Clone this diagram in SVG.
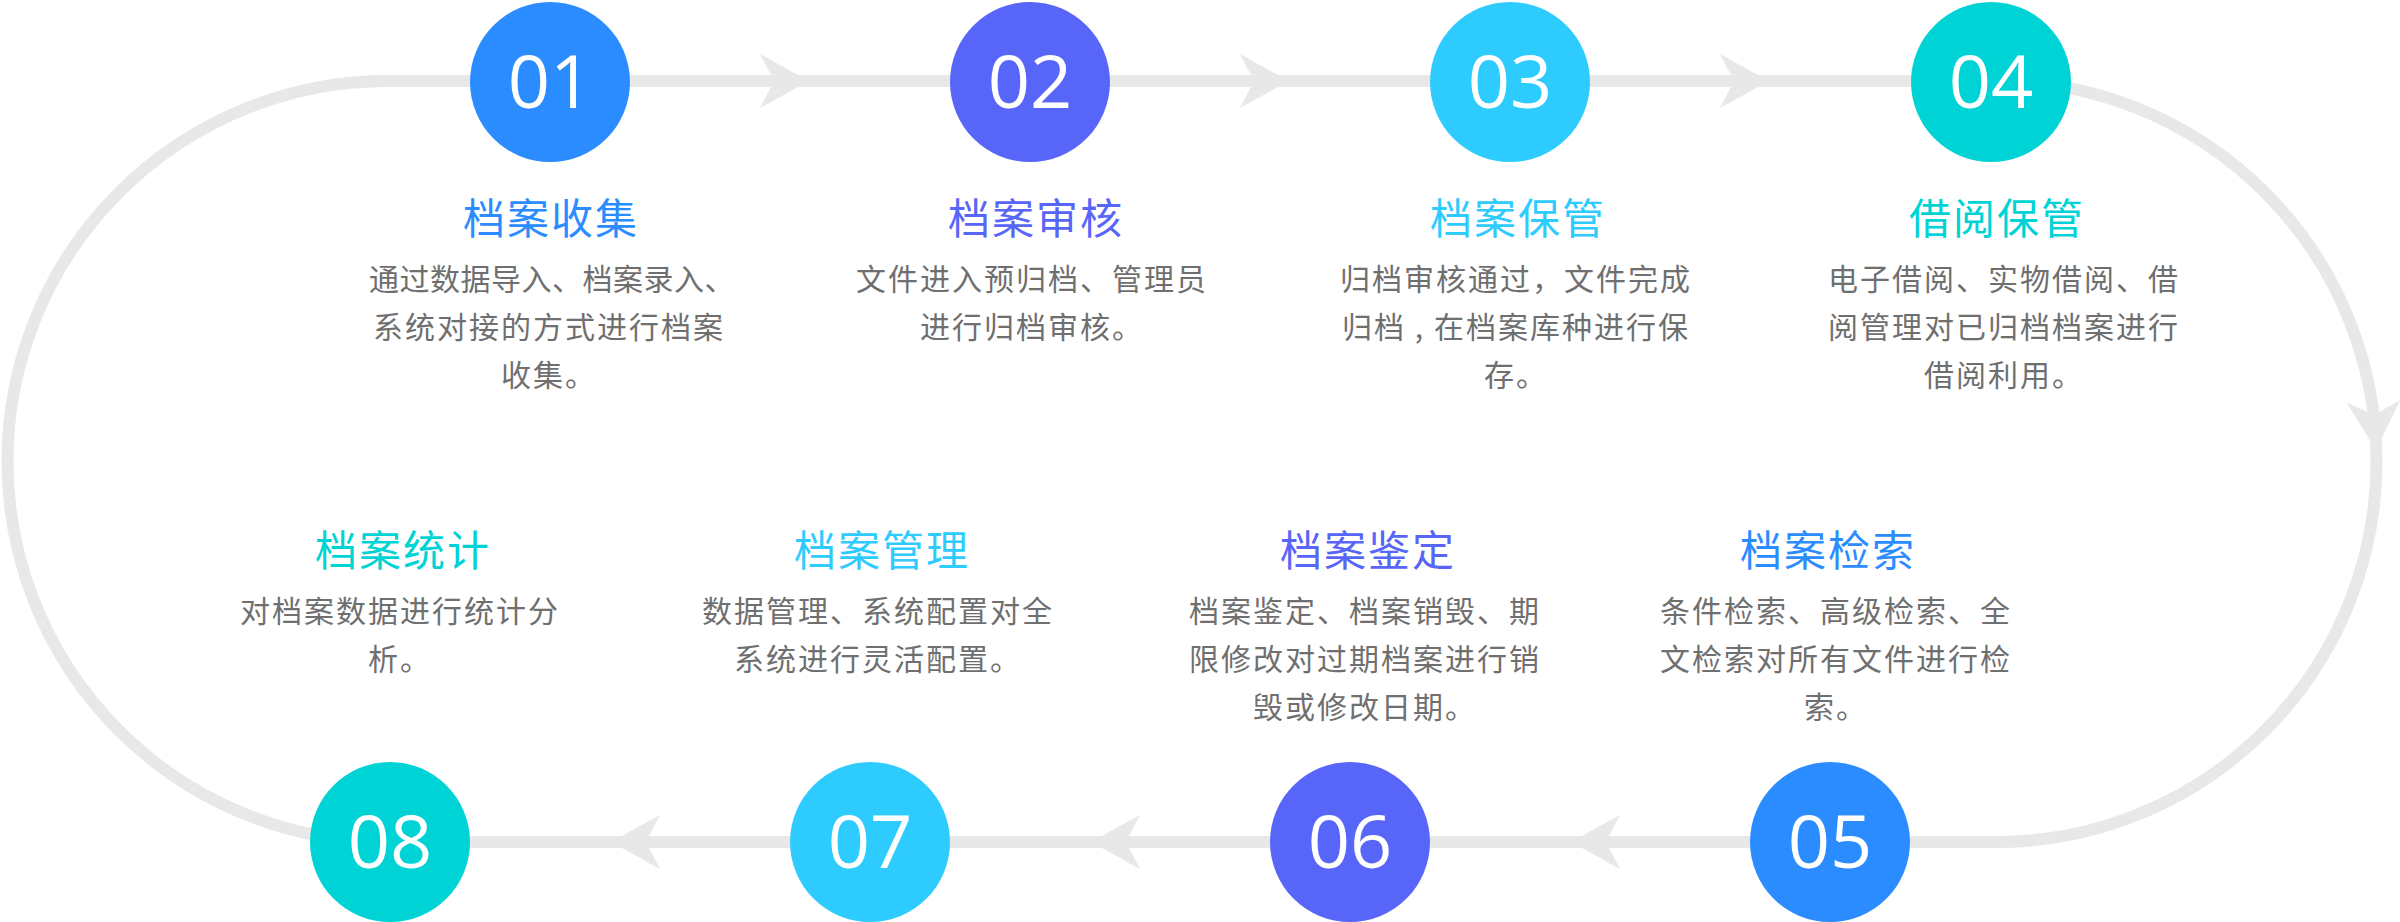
<svg xmlns="http://www.w3.org/2000/svg" xmlns:xlink="http://www.w3.org/1999/xlink" width="2400" height="922" viewBox="0 0 2400 922">
<style>
.track{fill:none;stroke:#e8e8e8;stroke-width:12}
.arr{fill:#e8e8e8}
.num{font-family:"Open Sans","Noto Sans",sans-serif;font-size:74px;fill:#ffffff;text-anchor:middle}
.title{font-family:"Noto Sans CJK SC","Noto Sans",sans-serif;font-size:42px;letter-spacing:2px;text-anchor:middle}
.desc{font-family:"Noto Sans CJK SC","Noto Sans",sans-serif;font-size:30px;letter-spacing:2px;fill:#6f6f6f;text-anchor:middle}
.tight{letter-spacing:0.5px}
.c1{fill:#2b8cff}.c2{fill:#5865f9}.c3{fill:#2ecbff}.c4{fill:#00d3d5}
</style>
<defs>
<path id="arrow" class="arr" d="M0,0 L-49,-27 L-35,0 L-49,27 Z"/>
</defs>
<rect width="2400" height="922" fill="#ffffff"/>
<g id="connectors">
<path class="track" d="M388,81 H1996 A380.5,380.5 0 0 1 1996,842 H388 A380.5,380.5 0 0 1 388,81 Z"/>
<use xlink:href="#arrow" href="#arrow" transform="translate(809,81)"/>
<use xlink:href="#arrow" href="#arrow" transform="translate(1289,81)"/>
<use xlink:href="#arrow" href="#arrow" transform="translate(1769,81)"/>
<use xlink:href="#arrow" href="#arrow" transform="translate(2376,450) rotate(87)"/>
<use xlink:href="#arrow" href="#arrow" transform="translate(1571,842) rotate(180)"/>
<use xlink:href="#arrow" href="#arrow" transform="translate(1091,842) rotate(180)"/>
<use xlink:href="#arrow" href="#arrow" transform="translate(611,842) rotate(180)"/>
</g>
<g id="node01">
<circle class="c1" cx="550" cy="82" r="80"/>
<text class="num" x="550" y="108">01</text>
<text class="title c1" x="551" y="234">档案收集</text>
<text class="desc tight" x="552" y="290">通过数据导入、档案录入、</text>
<text class="desc" x="549" y="338">系统对接的方式进行档案</text>
<text class="desc" x="549" y="386">收集。</text>
</g>
<g id="node02">
<circle class="c2" cx="1030" cy="82" r="80"/>
<text class="num" x="1030" y="108">02</text>
<text class="title c2" x="1036" y="234">档案审核</text>
<text class="desc" x="1032" y="290">文件进入预归档、管理员</text>
<text class="desc" x="1032" y="338">进行归档审核。</text>
</g>
<g id="node03">
<circle class="c3" cx="1510" cy="82" r="80"/>
<text class="num" x="1510" y="108">03</text>
<text class="title c3" x="1518" y="234">档案保管</text>
<text class="desc" x="1516" y="290">归档审核通过，文件完成</text>
<text class="desc" x="1516" y="338">归档 , 在档案库种进行保</text>
<text class="desc" x="1516" y="386">存。</text>
</g>
<g id="node04">
<circle class="c4" cx="1991" cy="82" r="80"/>
<text class="num" x="1991" y="108">04</text>
<text class="title c4" x="1997" y="234">借阅保管</text>
<text class="desc" x="2004" y="290">电子借阅、实物借阅、借</text>
<text class="desc" x="2004" y="338">阅管理对已归档档案进行</text>
<text class="desc" x="2004" y="386">借阅利用。</text>
</g>
<g id="node05">
<circle class="c1" cx="1830" cy="842" r="80"/>
<text class="num" x="1830" y="868">05</text>
<text class="title c1" x="1828" y="566">档案检索</text>
<text class="desc" x="1836" y="622">条件检索、高级检索、全</text>
<text class="desc" x="1836" y="670">文检索对所有文件进行检</text>
<text class="desc" x="1836" y="718">索。</text>
</g>
<g id="node06">
<circle class="c2" cx="1350" cy="842" r="80"/>
<text class="num" x="1350" y="868">06</text>
<text class="title c2" x="1368" y="566">档案鉴定</text>
<text class="desc" x="1365" y="622">档案鉴定、档案销毁、期</text>
<text class="desc" x="1365" y="670">限修改对过期档案进行销</text>
<text class="desc" x="1365" y="718">毁或修改日期。</text>
</g>
<g id="node07">
<circle class="c3" cx="870" cy="842" r="80"/>
<text class="num" x="870" y="868">07</text>
<text class="title c3" x="882" y="566">档案管理</text>
<text class="desc" x="878" y="622">数据管理、系统配置对全</text>
<text class="desc" x="878" y="670">系统进行灵活配置。</text>
</g>
<g id="node08">
<circle class="c4" cx="390" cy="842" r="80"/>
<text class="num" x="390" y="868">08</text>
<text class="title c4" x="403" y="566">档案统计</text>
<text class="desc" x="400" y="622">对档案数据进行统计分</text>
<text class="desc" x="400" y="670">析。</text>
</g>
</svg>
